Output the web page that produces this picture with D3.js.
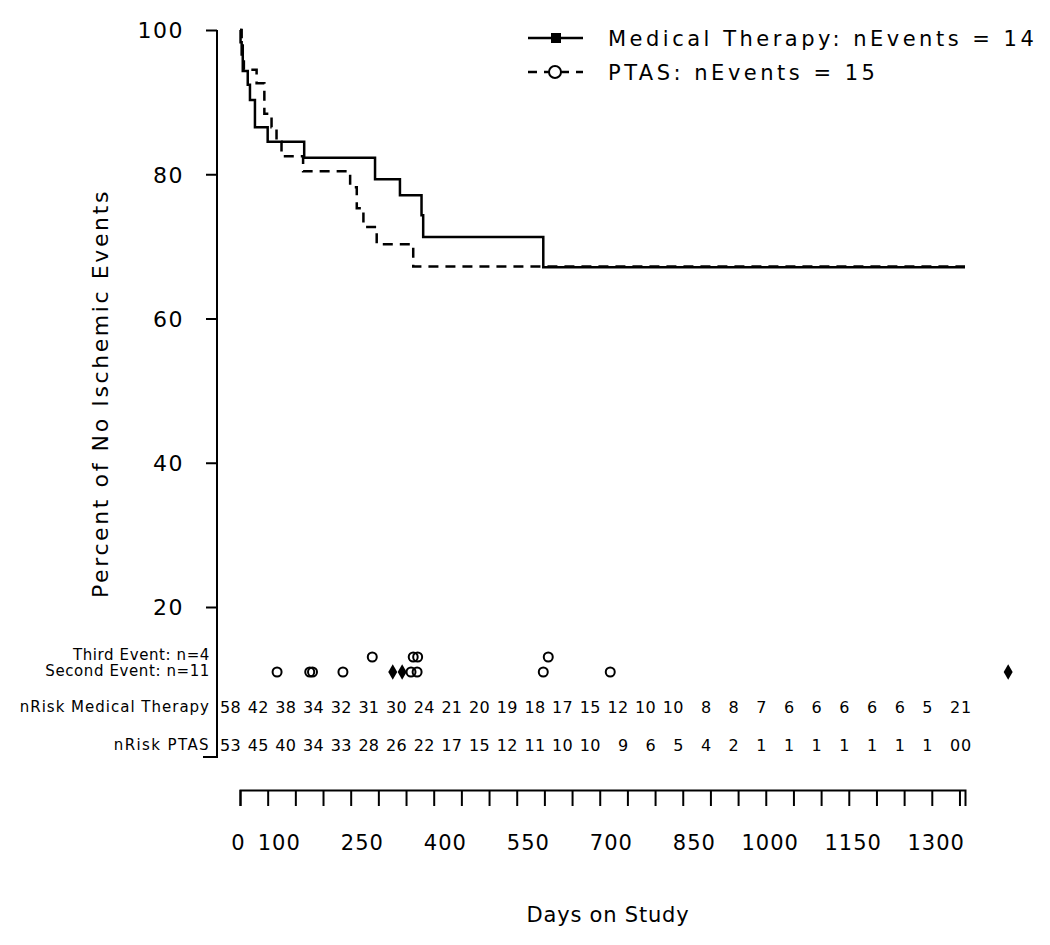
<!DOCTYPE html>
<html><head><meta charset="utf-8">
<script src="https://cdn.jsdelivr.net/npm/d3@7"></script>
<style>
body{margin:0;background:#fff;}
svg text{font-family:"DejaVu Sans",sans-serif;fill:#000;}
</style></head><body>
<svg id="c" width="1050" height="945"></svg>
<script>
// ---------- data ----------
const medicalDays = [0, 1, 3, 5, 14, 18, 27, 50, 116, 244, 289, 328, 331, 548, 1310];
const medicalSurv = [100, 98.3, 96.6, 94.3, 92.4, 90.3, 86.5, 84.5, 82.3, 79.3, 77.1, 74.3, 71.3, 67.1, 67.1];
const ptasDays = [0, 3, 5, 7, 30, 44, 57, 66, 75, 114, 199, 211, 223, 247, 313, 1310];
const ptasSurv = [100, 98.1, 96.2, 94.5, 92.6, 88.4, 86.5, 84.5, 82.5, 80.4, 78.2, 75.3, 72.7, 70.3, 67.2, 67.2];

const riskDays = [0, 50, 100, 150, 200, 250, 300, 350, 400, 450, 500, 550, 600, 650, 700, 750, 800, 850, 900, 950, 1000, 1050, 1100, 1150, 1200, 1250, 1300, 1350];
const riskMedical = [58, 42, 38, 34, 32, 31, 30, 24, 21, 20, 19, 18, 17, 15, 12, 10, 10, 8, 8, 7, 6, 6, 6, 6, 6, 5, 2, 1];
const riskPTAS = [53, 45, 40, 34, 33, 28, 26, 22, 17, 15, 12, 11, 10, 10, 9, 6, 5, 4, 2, 1, 1, 1, 1, 1, 1, 1, 0, 0];

const secondEventMedical = [276, 293, 1388];
const secondEventPTAS = [67, 126, 131, 186, 309, 320, 548, 669];
const thirdEventPTAS = [239, 313, 321, 557];

const xTickValues = [0, 50, 100, 150, 200, 250, 300, 350, 400, 450, 500, 550, 600, 650, 700, 750, 800, 850, 900, 950, 1000, 1050, 1100, 1150, 1200, 1250, 1300];
const xTickLabels = [0, 100, 250, 400, 550, 700, 850, 1000, 1150, 1300];
const yTickValues = [20, 40, 60, 80, 100];

const legendLabels = ["Medical Therapy: nEvents = 14", "PTAS: nEvents = 15"];
const rowLabels = ["Third Event: n=4", "Second Event: n=11", "nRisk Medical Therapy", "nRisk PTAS"];

// ---------- drawing ----------
const svg = d3.select("#c");
const x = d3.scaleLinear().domain([0, 1310]).range([240, 965]);
const y = d3.scaleLinear().domain([0, 100]).range([751.25, 30]);

// y axis
const yAxis = svg.append("g").attr("transform", "translate(217,0)")
  .call(d3.axisLeft(y).tickValues(yTickValues).tickSize(11).tickSizeOuter(0).tickPadding(22).tickFormat(d3.format("d")));
yAxis.select(".domain").remove();
yAxis.selectAll("line").attr("stroke", "#000").attr("stroke-width", 2);
yAxis.selectAll("text").style("font-size", "22px").style("letter-spacing", "1.5px").attr("dy", "0.36em");
// axis line + bracket
svg.append("line").attr("x1", 217).attr("x2", 217).attr("y1", y(100)).attr("y2", 757).attr("stroke", "#000").attr("stroke-width", 2);
svg.append("line").attr("x1", 203).attr("x2", 218).attr("y1", 757).attr("y2", 757).attr("stroke", "#000").attr("stroke-width", 2);

// x axis (ticks)
const xAxis = svg.append("g").attr("transform", "translate(0,790)")
  .call(d3.axisBottom(x).tickValues(xTickValues).tickSize(16).tickSizeOuter(16).tickFormat(""));
xAxis.selectAll("line,path").attr("stroke", "#000").attr("stroke-width", 2);
// x tick labels (right-aligned just past their ticks, as in the original)
const xLab = svg.append("g").attr("transform", "translate(5,790)")
  .call(d3.axisBottom(x).tickValues(xTickLabels).tickSize(0).tickPadding(45).tickFormat(d3.format("d")));
xLab.select(".domain").remove();
xLab.selectAll("text").attr("text-anchor", "end").style("font-size", "21px").style("letter-spacing", "1px");

// axis titles
svg.append("text").attr("transform", `translate(108,${(y(100)+y(20))/2 + 75}) rotate(-90)`)
  .attr("text-anchor", "middle").style("font-size", "22px").style("letter-spacing", "2.6px")
  .text("Percent of No Ischemic Events");
svg.append("text").attr("x", 608).attr("y", 922).attr("text-anchor", "middle")
  .style("font-size", "21px").style("letter-spacing", "0.8px").text("Days on Study");

// curves
const step = d3.line().x(d => x(d[0])).y(d => y(d[1])).curve(d3.curveStepAfter);
svg.append("path").datum(d3.zip(ptasDays, ptasSurv)).attr("d", step)
  .attr("fill", "none").attr("stroke", "#000").attr("stroke-width", 2.5).attr("stroke-dasharray", "10,7");
svg.append("path").datum(d3.zip(medicalDays, medicalSurv)).attr("d", step)
  .attr("fill", "none").attr("stroke", "#000").attr("stroke-width", 2.5);

// legend
const lg = svg.append("g");
lg.append("line").attr("x1", 528).attr("x2", 583).attr("y1", 38).attr("y2", 38).attr("stroke", "#000").attr("stroke-width", 2.5);
lg.append("rect").attr("x", 551).attr("y", 33).attr("width", 10).attr("height", 10).attr("fill", "#000");
lg.append("line").attr("x1", 528).attr("x2", 583).attr("y1", 72).attr("y2", 72).attr("stroke", "#000").attr("stroke-width", 2.5).attr("stroke-dasharray", "9,7");
lg.append("circle").attr("cx", 555).attr("cy", 72).attr("r", 6).attr("fill", "#fff").attr("stroke", "#000").attr("stroke-width", 2);
lg.selectAll("text.leg").data(legendLabels).join("text").attr("class", "leg")
  .attr("x", 608).attr("y", (d, i) => 38 + i * 34).attr("dy", "0.36em")
  .style("font-size", "21px").style("letter-spacing", "3.5px").text(d => d);

// row labels
const rowY = [655, 671, 707, 745];
const rowSpacing = [0.6, 0.6, 1.0, 1.4];
svg.selectAll("text.row").data(rowLabels).join("text").attr("class", "row")
  .attr("x", 210).attr("y", (d, i) => rowY[i]).attr("dy", "0.36em").attr("text-anchor", "end")
  .style("font-size", "15px").style("letter-spacing", (d, i) => rowSpacing[i] + "px").text(d => d);

// event markers
const mk = svg.append("g");
mk.selectAll("circle.p2").data(secondEventPTAS).join("circle").attr("class", "p2")
  .attr("cx", d => x(d)).attr("cy", 672).attr("r", 4.5).attr("fill", "none").attr("stroke", "#000").attr("stroke-width", 2);
mk.selectAll("circle.p3").data(thirdEventPTAS).join("circle").attr("class", "p3")
  .attr("cx", d => x(d)).attr("cy", 657).attr("r", 4.5).attr("fill", "none").attr("stroke", "#000").attr("stroke-width", 2);
mk.selectAll("path.m2").data(secondEventMedical).join("path").attr("class", "m2")
  .attr("transform", d => `translate(${x(d)},672)`)
  .attr("d", d3.symbol().type(d3.symbolDiamond).size(70)).attr("fill", "#000");

// risk table numbers (right-aligned at 50-day positions; the last one squeezed at the axis end)
const xRisk = d => d > 1310 ? x(1300) + 1.5 : x(d) + 1;
const anchorRisk = d => d > 1310 ? "start" : "end";
svg.selectAll("text.rm").data(d3.zip(riskDays, riskMedical)).join("text").attr("class", "rm")
  .attr("x", d => xRisk(d[0])).attr("y", 707).attr("dy", "0.36em").attr("text-anchor", d => anchorRisk(d[0]))
  .style("font-size", "16px").style("letter-spacing", "0.3px").text(d => d[1]);
svg.selectAll("text.rp").data(d3.zip(riskDays, riskPTAS)).join("text").attr("class", "rp")
  .attr("x", d => xRisk(d[0])).attr("y", 745).attr("dy", "0.36em").attr("text-anchor", d => anchorRisk(d[0]))
  .style("font-size", "16px").style("letter-spacing", "0.3px").text(d => d[1]);
</script>
</body></html>
